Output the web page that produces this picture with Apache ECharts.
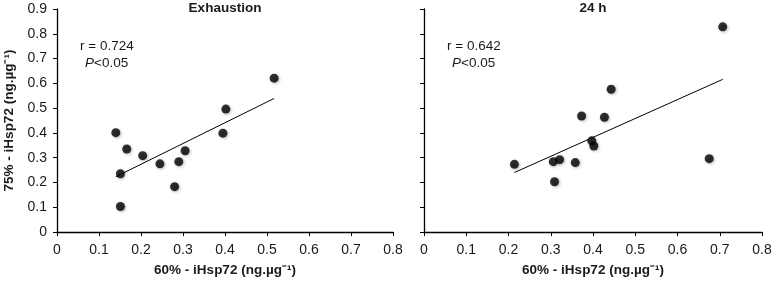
<!DOCTYPE html>
<html lang="en" style="height: 100%">
<head>
<meta charset="utf-8">
<title>iHsp72 correlation</title>
</head>
<body style="height: 100%; margin: 0; background: #fff">
<div id="container" style="height: 100%"></div>
<script type="text/javascript" src="https://cdn.jsdelivr.net/npm/echarts@6/dist/echarts.min.js"></script>
<script type="text/javascript">

// Exhaustion panel: [60% iHsp72, 75% iHsp72]
const exhaustionPoints = [
    [0.140, 0.401], [0.166, 0.335], [0.151, 0.235], [0.151, 0.103],
    [0.204, 0.308], [0.245, 0.275], [0.280, 0.183], [0.290, 0.284],
    [0.305, 0.328], [0.395, 0.399], [0.402, 0.496], [0.517, 0.621]
];
const exhaustionTrend = [[0.140, 0.223], [0.517, 0.539]];

// 24 h panel
const h24Points = [
    [0.214, 0.273], [0.306, 0.284], [0.321, 0.292], [0.309, 0.203],
    [0.358, 0.280], [0.373, 0.468], [0.397, 0.368], [0.402, 0.347],
    [0.427, 0.463], [0.443, 0.576], [0.675, 0.296], [0.707, 0.828]
];
const h24Trend = [[0.214, 0.240], [0.707, 0.616]];

const panelTitles = ['Exhaustion', '24 h'];
const rValues = ['r = 0.724', 'r = 0.642'];
const xName = '60% - iHsp72 (ng.µg⁻¹)';
const yName = '75% - iHsp72 (ng.µg⁻¹)';

const font = 'Liberation Sans, Arial, sans-serif';
const ink = '#1a1a1a';

var dom = document.getElementById('container');
var myChart = echarts.init(dom);

function xAxisFor(gridIndex) {
    return {
        gridIndex: gridIndex,
        type: 'value',
        min: 0,
        max: 0.8,
        interval: 0.1,
        name: xName,
        nameLocation: 'middle',
        nameGap: 31,
        nameTextStyle: { fontFamily: font, fontSize: 13.5, fontWeight: 'bold', color: ink },
        axisLine: { lineStyle: { color: '#000', width: 1.3 } },
        axisTick: { show: true, length: 4, lineStyle: { color: '#000' } },
        axisLabel: { fontFamily: font, fontSize: 14, color: ink, margin: 11 },
        splitLine: { show: false }
    };
}

function yAxisFor(gridIndex, showLabels) {
    return {
        gridIndex: gridIndex,
        type: 'value',
        min: 0,
        max: 0.9,
        interval: 0.1,
        name: showLabels ? yName : '',
        nameLocation: 'middle',
        nameGap: 41,
        nameTextStyle: { fontFamily: font, fontSize: 13.5, fontWeight: 'bold', color: ink },
        axisLine: { show: true, lineStyle: { color: '#000', width: 1.3 } },
        axisTick: { show: true, length: 4, lineStyle: { color: '#000' } },
        axisLabel: { show: showLabels, fontFamily: font, fontSize: 14, color: ink, margin: 10 },
        splitLine: { show: false }
    };
}

function scatterFor(idx, data) {
    return {
        type: 'scatter',
        xAxisIndex: idx,
        yAxisIndex: idx,
        data: data,
        symbolSize: 9,
        itemStyle: { color: '#000', shadowBlur: 3, shadowColor: 'rgba(0,0,0,0.35)', shadowOffsetX: 1, shadowOffsetY: 1 },
        z: 3
    };
}

function trendFor(idx, data) {
    return {
        type: 'line',
        xAxisIndex: idx,
        yAxisIndex: idx,
        data: data,
        showSymbol: false,
        symbol: 'none',
        lineStyle: { color: '#000', width: 1 },
        z: 2
    };
}

function statText(left, label) {
    return {
        text: '{n|' + label + '}\n {i|P}{n|<0.05}',
        left: left,
        top: 38,
        padding: 0,
        textStyle: {
            fontWeight: 'normal',
            rich: {
                n: { fontFamily: font, fontSize: 13.5, fontWeight: 'normal', color: ink, lineHeight: 16 },
                i: { fontFamily: font, fontSize: 13.5, fontWeight: 'normal', color: ink, fontStyle: 'italic', lineHeight: 16 }
            }
        }
    };
}

var option = {
    animation: false,
    backgroundColor: '#fff',
    title: [
        { text: panelTitles[0], left: 225, top: 1, textAlign: 'center', padding: 0,
          textStyle: { fontFamily: font, fontSize: 13.5, fontWeight: 'bold', color: ink } },
        { text: panelTitles[1], left: 593, top: 1, textAlign: 'center', padding: 0,
          textStyle: { fontFamily: font, fontSize: 13.5, fontWeight: 'bold', color: ink } },
        statText(80, rValues[0]),
        statText(447, rValues[1])
    ],
    grid: [
        { left: 57, top: 9, width: 336, height: 225 },
        { left: 424, top: 9, width: 338, height: 225 }
    ],
    xAxis: [xAxisFor(0), xAxisFor(1)],
    yAxis: [yAxisFor(0, true), yAxisFor(1, false)],
    series: [
        trendFor(0, exhaustionTrend),
        scatterFor(0, exhaustionPoints),
        trendFor(1, h24Trend),
        scatterFor(1, h24Points)
    ]
};

myChart.setOption(option);
window.addEventListener('resize', myChart.resize);
</script>
</body>
</html>
